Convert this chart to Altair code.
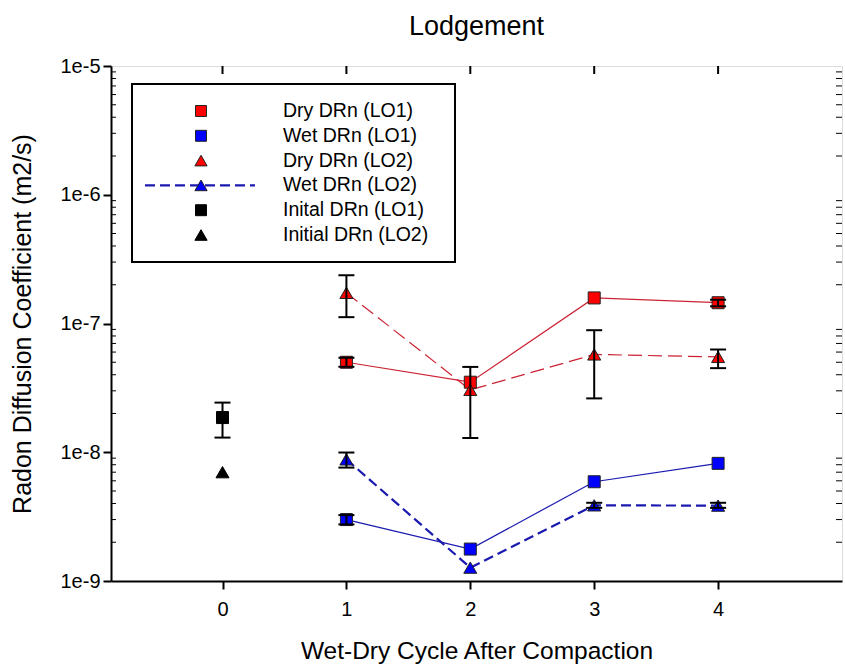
import altair as alt
import pandas as pd

# ---------------- data ----------------
cycles = [1, 2, 3, 4]
dry_lo1 = [5.0e-8, 3.5e-8, 1.58e-7, 1.45e-7]
wet_lo1 = [3.0e-9, 1.77e-9, 5.9e-9, 8.2e-9]
dry_lo2 = [1.73e-7, 3.05e-8, 5.75e-8, 5.5e-8]
wet_lo2 = [8.8e-9, 1.27e-9, 3.87e-9, 3.85e-9]
initial_x = [0]
initial_lo1 = [1.86e-8]
initial_lo2 = [7.0e-9]

# error bars: (x, low, high)
err_x = [0, 1, 2, 3, 4, 1, 4, 1, 1, 3, 4]
err_lo = [1.3e-8, 1.12e-7, 1.29e-8, 2.62e-8, 4.5e-8, 4.61e-8, 1.36e-7, 7.6e-9, 2.75e-9, 3.7e-9, 3.7e-9]
err_hi = [2.43e-8, 2.37e-7, 4.6e-8, 8.87e-8, 6.28e-8, 5.42e-8, 1.53e-7, 9.95e-9, 3.25e-9, 4.05e-9, 4.05e-9]

x_ticks = [0, 1, 2, 3, 4]
y_ticks = [1e-9, 1e-8, 1e-7, 1e-6, 1e-5]
minor_ticks = [m * 10.0 ** k for k in range(-9, -5) for m in range(2, 10)]

legend_labels = ["Dry DRn (LO1)", "Wet DRn (LO1)", "Dry DRn (LO2)", "Wet DRn (LO2)",
                 "Inital DRn (LO1)", "Initial DRn (LO2)"]
legend_fill = ["#ff0000", "#0000ff", "#ff0000", "#0000ff", "#000000", "#000000"]
legend_shape = ["square", "square", "triangle-up", "triangle-up", "square", "triangle-up"]

# ---------------- styling ----------------
FONT = "Liberation Sans"
W, H = 731, 515
RED_LINE = "#cc2233"
BLUE_LINE = "#1a1ab0"
MSTROKE = "#222222"

xscale = alt.Scale(domain=[-0.9, 5], nice=False, zero=False)
yscale = alt.Scale(type="log", domain=[1e-9, 1e-5], nice=False)
xaxis = alt.Axis(values=x_ticks, title="Wet-Dry Cycle After Compaction", grid=False,
                 tickSize=8, tickWidth=2, tickColor="black", domainColor="black", domainWidth=2,
                 labelFontSize=20, labelColor="black", labelPadding=10, labelFont=FONT,
                 titleFontSize=24.5, titleFontWeight="normal", titleColor="black", titlePadding=20,
                 titleFont=FONT, format="d")
yaxis = alt.Axis(values=y_ticks, title="Radon Diffusion Coefficient (m2/s)", grid=False,
                 tickSize=8, tickWidth=2, tickColor="black", domainColor="black", domainWidth=2,
                 labelFontSize=20, labelColor="black", labelPadding=3, labelFont=FONT,
                 labelExpr="'1e' + round(log(datum.value) / LN10)",
                 titleFontSize=25, titleFontWeight="normal", titleColor="black", titlePadding=24,
                 titleFont=FONT)


def X(field="x"):
    return alt.X(f"{field}:Q", scale=xscale, axis=xaxis)


def Y(field="v"):
    return alt.Y(f"{field}:Q", scale=yscale, axis=yaxis)


series = [
    ("Dry DRn (LO1)", cycles, dry_lo1, RED_LINE, [1, 0], 1.2, "#ff0000", "square"),
    ("Dry DRn (LO2)", cycles, dry_lo2, RED_LINE, [14, 6], 1.2, "#ff0000", "triangle-up"),
    ("Wet DRn (LO1)", cycles, wet_lo1, BLUE_LINE, [1, 0], 1.2, "#0000ff", "square"),
    ("Wet DRn (LO2)", cycles, wet_lo2, BLUE_LINE, [10, 5], 2.2, "#0000ff", "triangle-up"),
]

layers = []
for name, xs, vs, lc, dash, lw, fill, shape in series:
    df = pd.DataFrame({"x": xs, "v": vs})
    line_kwargs = dict(color=lc, strokeWidth=lw)
    if dash != [1, 0]:
        line_kwargs["strokeDash"] = dash
    layers.append(alt.Chart(df).mark_line(**line_kwargs).encode(x=X(), y=Y()))

for name, xs, vs, lc, dash, lw, fill, shape in series:
    df = pd.DataFrame({"x": xs, "v": vs})
    size = 144 if shape == "square" else 170
    layers.append(alt.Chart(df).mark_point(shape=shape, filled=True, fill=fill, stroke=MSTROKE,
                                           strokeWidth=1, size=size, opacity=1)
                  .encode(x=X(), y=Y()))

for vals, shape in [(initial_lo1, "square"), (initial_lo2, "triangle-up")]:
    df = pd.DataFrame({"x": initial_x, "v": vals})
    size = 144 if shape == "square" else 170
    layers.append(alt.Chart(df).mark_point(shape=shape, filled=True, fill="black", stroke="black",
                                           strokeWidth=1, size=size, opacity=1)
                  .encode(x=X(), y=Y()))

# error bars
err_df = pd.DataFrame({"x": err_x, "lo": err_lo, "hi": err_hi})
layers.append(alt.Chart(err_df).mark_rule(color="black", strokeWidth=2)
              .encode(x=X(), y=Y("lo"), y2="hi:Q"))
for fld in ["lo", "hi"]:
    layers.append(alt.Chart(err_df).mark_point(shape="stroke", size=256, stroke="black",
                                               strokeWidth=2, filled=False, opacity=1)
                  .encode(x=X(), y=Y(fld)))

# inward ticks: top, left minor, right minor
top_df = pd.DataFrame({"x": x_ticks})
layers.append(alt.Chart(top_df).mark_rule(color="black", strokeWidth=2)
              .encode(x=X(), y=alt.value(0), y2=alt.value(8)))
minor_df = pd.DataFrame({"v": minor_ticks})
layers.append(alt.Chart(minor_df).mark_rule(color="black", strokeWidth=1)
              .encode(y=Y(), x=alt.value(0), x2=alt.value(5)))
layers.append(alt.Chart(minor_df).mark_rule(color="black", strokeWidth=1)
              .encode(y=Y(), x=alt.value(W), x2=alt.value(W - 6)))

# ---------------- legend (drawn inside plot) ----------------
one = pd.DataFrame({"k": [0]})
LX0, LX1, LY0, LY1 = 21, 344, 18, 196
layers.append(alt.Chart(one).mark_rect(fill="white", stroke="black", strokeWidth=2)
              .encode(x=alt.value(LX0), x2=alt.value(LX1), y=alt.value(LY0), y2=alt.value(LY1)))
row_y0, row_step = 45, 24.8
sym_x, lab_x = 90, 172
layers.append(alt.Chart(one).mark_rule(color=BLUE_LINE, strokeWidth=2.2, strokeDash=[10, 5])
              .encode(x=alt.value(34), x2=alt.value(144), y=alt.value(row_y0 + 3 * row_step)))
for i, (lab, fill, shape) in enumerate(zip(legend_labels, legend_fill, legend_shape)):
    yy = row_y0 + i * row_step
    size = 120 if shape == "square" else 150
    stroke = MSTROKE if fill != "#000000" else "black"
    layers.append(alt.Chart(one).mark_point(shape=shape, filled=True, fill=fill, stroke=stroke,
                                            strokeWidth=1, size=size, opacity=1)
                  .encode(x=alt.value(sym_x), y=alt.value(yy)))
    layers.append(alt.Chart(one).mark_text(text=lab, font=FONT, fontSize=19.5, align="left",
                                           baseline="middle", color="black")
                  .encode(x=alt.value(lab_x), y=alt.value(yy)))

chart = alt.layer(*layers).properties(
    width=W, height=H,
    title=alt.TitleParams("Lodgement", fontSize=27, fontWeight="normal", font=FONT,
                          color="black", anchor="middle", offset=15),
    autosize=alt.AutoSizeParams(type="none"),
    padding={"left": 111, "top": 66, "right": 3, "bottom": 87},
    background="white",
).configure_view(stroke="black", strokeWidth=2).configure(font=FONT)

chart.save("out.html", embed_options={"renderer": "svg", "actions": False})
